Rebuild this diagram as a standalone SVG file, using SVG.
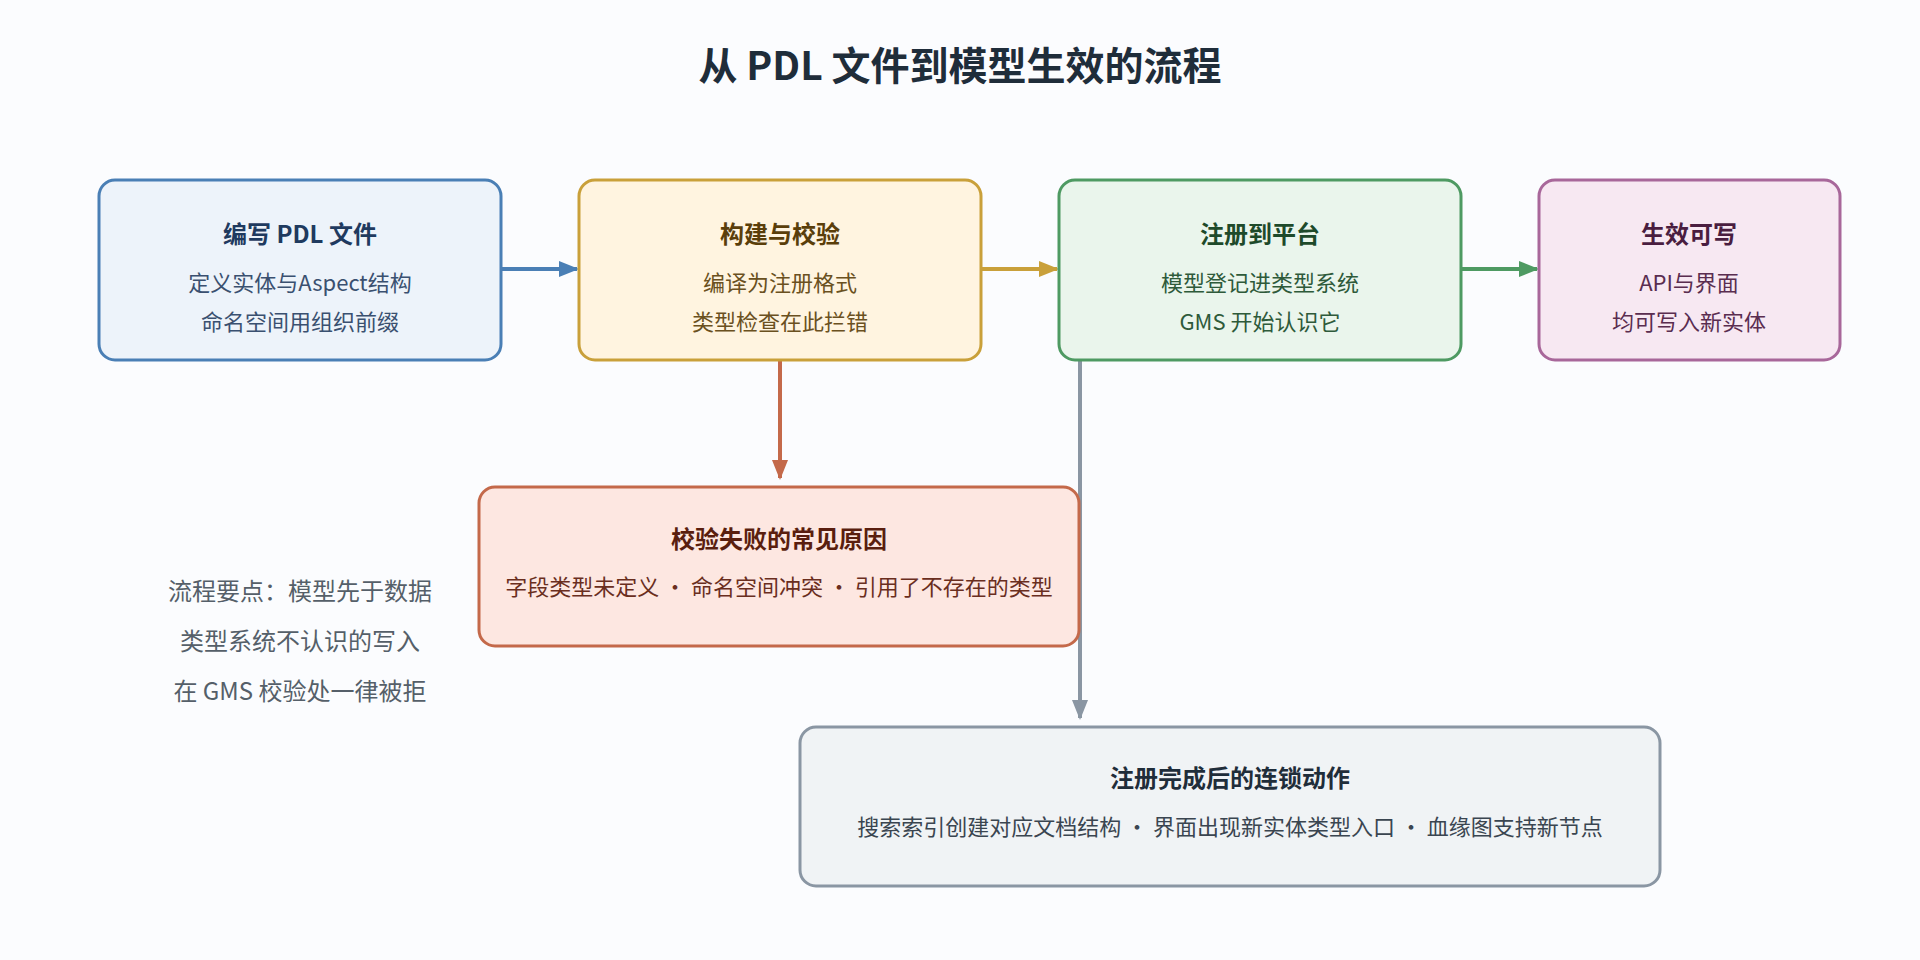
<svg xmlns="http://www.w3.org/2000/svg" width="1920" height="960" viewBox="0 0 1920 960">
<defs>
<style>
text{font-family:"Noto Sans CJK SC","Noto Sans",sans-serif;text-anchor:middle}
.t{font-size:24px;font-weight:bold}
.b{font-size:22px}
.box{stroke-width:3}
</style>
<marker id="mb" markerWidth="10" markerHeight="10" refX="9" refY="5" orient="auto" markerUnits="userSpaceOnUse" viewBox="0 0 10 10"><path d="M0,0L10,5L0,10z" fill="#4a7fb5"/></marker>
<marker id="my" markerWidth="20" markerHeight="20" refX="18" refY="10" orient="auto" markerUnits="userSpaceOnUse"><path d="M0,2L20,10L0,18z" fill="#c9a03a"/></marker>
<marker id="mg" markerWidth="20" markerHeight="20" refX="18" refY="10" orient="auto" markerUnits="userSpaceOnUse"><path d="M0,2L20,10L0,18z" fill="#4e9a62"/></marker>
<marker id="mr" markerWidth="20" markerHeight="20" refX="18" refY="10" orient="auto" markerUnits="userSpaceOnUse"><path d="M0,2L20,10L0,18z" fill="#c4694a"/></marker>
<marker id="ms" markerWidth="20" markerHeight="20" refX="18" refY="10" orient="auto" markerUnits="userSpaceOnUse"><path d="M0,2L20,10L0,18z" fill="#8a96a3"/></marker>
<marker id="mb2" markerWidth="20" markerHeight="20" refX="18" refY="10" orient="auto" markerUnits="userSpaceOnUse"><path d="M0,2L20,10L0,18z" fill="#4a7fb5"/></marker>
</defs>
<rect width="1920" height="960" fill="#fbfcfe"/>
<text x="960" y="80" style="font-size:39px;font-weight:bold" fill="#1f2d3a">从 PDL 文件到模型生效的流程</text>
<g id="connectors" stroke-width="4" fill="none">
<line x1="501" y1="269" x2="577" y2="269" stroke="#4a7fb5" marker-end="url(#mb2)"/>
<line x1="981" y1="269" x2="1057" y2="269" stroke="#c9a03a" marker-end="url(#my)"/>
<line x1="1461" y1="269" x2="1537" y2="269" stroke="#4e9a62" marker-end="url(#mg)"/>
<line x1="780" y1="360" x2="780" y2="478" stroke="#c4694a" marker-end="url(#mr)"/>
<line x1="1080" y1="360" x2="1080" y2="718" stroke="#8a96a3" marker-end="url(#ms)"/>
</g>
<g id="n1"><rect class="box" x="99" y="180" width="402" height="180" rx="16" fill="#edf3fa" stroke="#4a7fb5"/>
<text class="t" x="300" y="243" fill="#1f3a5f">编写 PDL 文件</text>
<text class="b" x="300" y="291" fill="#3a5070">定义实体与Aspect结构</text>
<text class="b" x="300" y="330" fill="#3a5070">命名空间用组织前缀</text></g>
<g id="n2"><rect class="box" x="579" y="180" width="402" height="180" rx="16" fill="#fff4e0" stroke="#c9a03a"/>
<text class="t" x="780" y="243" fill="#5a3e0a">构建与校验</text>
<text class="b" x="780" y="291" fill="#6a5020">编译为注册格式</text>
<text class="b" x="780" y="330" fill="#6a5020">类型检查在此拦错</text></g>
<g id="n3"><rect class="box" x="1059" y="180" width="402" height="180" rx="16" fill="#eaf5ec" stroke="#4e9a62"/>
<text class="t" x="1260" y="243" fill="#1e4a2a">注册到平台</text>
<text class="b" x="1260" y="291" fill="#2e5a3a">模型登记进类型系统</text>
<text class="b" x="1260" y="330" fill="#2e5a3a">GMS 开始认识它</text></g>
<g id="n4"><rect class="box" x="1539" y="180" width="301" height="180" rx="16" fill="#f7e8f2" stroke="#a8679a"/>
<text class="t" x="1689" y="243" fill="#4a1d40">生效可写</text>
<text class="b" x="1689" y="291" fill="#5a2d50">API与界面</text>
<text class="b" x="1689" y="330" fill="#5a2d50">均可写入新实体</text></g>
<g id="n5"><rect class="box" x="479" y="487" width="600" height="159" rx="16" fill="#fde7e1" stroke="#c4694a"/>
<text class="t" x="779" y="548" fill="#5a1e0e">校验失败的常见原因</text>
<text class="b" x="779" y="595" fill="#6a2e1e">字段类型未定义 · 命名空间冲突 · 引用了不存在的类型</text></g>
<g id="n6"><rect class="box" x="800" y="727" width="860" height="159" rx="16" fill="#f0f3f5" stroke="#8a96a3"/>
<text class="t" x="1230" y="787" fill="#1f2d3a">注册完成后的连锁动作</text>
<text class="b" x="1230" y="835" fill="#3a4550">搜索索引创建对应文档结构 · 界面出现新实体类型入口 · 血缘图支持新节点</text></g>
<g id="note" fill="#555f69" style="font-size:24px">
<text x="300" y="600">流程要点：模型先于数据</text>
<text x="300" y="650">类型系统不认识的写入</text>
<text x="300" y="700">在 GMS 校验处一律被拒</text></g>
</svg>
